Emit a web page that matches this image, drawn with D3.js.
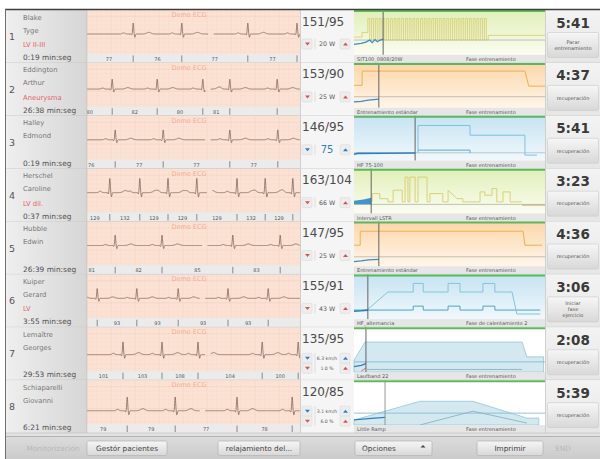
<!DOCTYPE html>
<html><head><meta charset="utf-8">
<script src="https://cdn.jsdelivr.net/npm/d3@7"></script>
<style>body{margin:0;background:#fff;} svg{display:block;font-family:"DejaVu Sans",sans-serif;}</style>
</head><body><svg id="c" width="604" height="459"></svg>
<script>
// ---------------- DATA ----------------
const patientNumbers = [1,2,3,4,5,6,7,8];
const lastNames  = ["Blake","Eddington","Halley","Herschel","Hubble","Kuiper","Lemaître","Schiaparelli"];
const firstNames = ["Tyge","Arthur","Edmond","Caroline","Edwin","Gerard","Georges","Giovanni"];
const diagnoses  = ["LV II-III","Aneurysma","","LV dil.","","LV","",""];
const elapsed    = ["0:19 min:seg","26:38 min:seg","0:19 min:seg","0:37 min:seg","26:39 min:seg","3:55 min:seg","29:53 min:seg","6:21 min:seg"];
const bloodPressure = ["151/95","153/90","146/95","163/104","147/95","155/91","135/95","120/85"];
const loadSetting   = ["20 W","25 W","75","66 W","25 W","43 W","6.3 km/h","3.1 km/h"];
const gradeSetting  = ["","","","","","","1.0 %","6.0 %"];
const phaseTimes    = ["5:41","4:37","5:41","3:23","4:36","3:06","2:08","5:39"];
const actionLabels  = [["Parar","entrenamiento"],["recuperación"],["recuperación"],["recuperación"],["recuperación"],["Iniciar","fase","ejercicio"],["recuperación"],["recuperación"]];
const programNames  = ["SIT100_0808/20W","Entrenamiento estándar","HF 75-100","Intervall LSTR","Entrenamiento estándar","HF_alternancia","Laufband 22","Little Ramp"];
const phaseNames    = ["Fase entrenamiento","Fase entrenamiento","Fase entrenamiento","Fase entrenamiento","Fase entrenamiento","Fase de calentamiento 2","Fase entrenamiento","Fase entrenamiento"];

// ECG: R-peak times (s), sweep gap start (s), RR heart-rate labels, amplitude (mV), baseline offset (mV)
const ecgBeats = [
  [0.77,1.58,2.68,3.50],
  [0.42,1.17,1.93,2.38,3.17],
  [0.47,1.27,2.38,3.18],
  [0.38,0.88,1.35,1.83,2.50,2.97,3.43],
  [0.47,1.25,2.43,3.22],
  [0.17,0.83,1.52,2.35,3.02],
  [0.60,1.25,1.85,2.92,3.52],
  [0.67,1.47,2.50,3.42]
];
const ecgGapStart = [2.02,1.97,1.97,2.00,1.92,1.88,1.97,1.88];
const rrValues = [
  [77,76,77,77],
  [80,82,80,81],
  [76,77,77,77],
  [129,132,129,129,129,132,129],
  [81,82,85,83],
  [94,93,93,93,93],
  [101,103,108,104,100],
  [79,79,77,78]
];
const ecgAmplitude = [1.0,0.9,0.9,1.3,0.95,0.9,1.15,1.25];
const ecgOffset    = [0.0,-0.2,0.0,0.0,0.0,0.0,-0.3,-0.6];

// Trend charts: [minute, % of scale]
const trendStyle = ["green","orange","blue","green","orange","blue","white","white"];
const referenceLevel = [35,26,18.5,21.5,22.6,21.7,24.2,28];
const currentTime = [6.1,5.2,12.8,3.6,5.2,2.9,2.5,6.5];
// row 1: interval protocol
const load1Warmup   = [[0,42],[1.7,42],[1.7,53],[2.9,53]];
const load1Interval = [2.9,28.1,32,86,35];   // start, end, repetitions, high, low
const load1Cooldown = [[28.1,46],[40,46]];
const hr1 = [[0,25],[1.5,27],[2.5,30],[3.3,35],[3.8,29],[4.4,36],[4.9,31],[5.5,35],[6.1,37]];
// row 2
const load2 = [[0,53],[1.7,53],[1.7,86.5],[35.8,86.5],[36.6,51],[40,51]];
const hr2 = [[0,14],[1.5,15],[3,18],[5.2,20.5]];
// row 3
const target3Upper = [[13.4,18.5],[13.4,83],[24.3,83],[24.3,60],[35.8,60],[35.8,13],[38.3,13]];
const target3Lower = [[13.4,24.8],[24.3,24.8],[24.3,18.5]];
const hr3 = [[0,15],[0.8,17],[6,17.5],[12.8,18]];
// row 4
const load4 = [[3.8,27.5],[3.8,47],[5.4,47],[5.4,35],[7.1,35],[7.1,27.5],[8.2,27.5],[8.2,55],[10.1,55],[10.1,27.5],[10.7,27.5],[10.7,86],[11.3,86],[11.3,27.5],[11.7,27.5],[11.7,86],[12.8,86],[12.8,27.5],[13.4,27.5],[13.4,86],[15.3,86],[15.3,27.5],[15.9,27.5],[15.9,47],[18.6,47],[18.6,27.5],[19.7,27.5],[19.7,55],[21.6,35],[22.8,35],[22.8,27.5],[26.4,27.5],[26.4,51],[27.4,51],[27.4,43],[28.9,43],[28.9,59],[29.9,59],[29.9,27.5],[31.2,27.5],[31.2,51],[32.7,51],[32.7,27.5],[35.2,27.5]];
const cool4 = [[35.2,19.8],[40,19.8]];
const hr4 = [[0,30],[2,33],[3.6,37]];
// row 5
const load5 = [[0,50],[1.3,50],[1.3,83],[35.4,83],[35.8,50],[39.4,50]];
const hr5 = [[0,11],[1.5,13],[3,15.5],[5.2,16.6]];
// row 6
const target6Upper = [[2.7,21.7],[7.1,64.3],[12.4,64.3],[12.4,84.6],[14.5,84.6],[14.5,64.3],[19.7,64.3],[19.7,84.6],[22.2,84.6],[22.2,64.3],[27,64.3],[27,84.6],[29.5,84.6],[29.5,64.3],[33.1,64.3],[34.1,12.4],[39,12.4]];
const target6Lower = [[0,21.7],[12.4,21.7],[12.4,31],[14.5,31],[14.5,21.7],[19.7,21.7],[19.7,31],[22.2,31],[22.2,21.7],[27,21.7],[27,31],[29.5,31],[29.5,21.7],[39,21.7]];
const hr6 = [[0,19],[1.5,20],[2.9,21.5]];
// row 7 (treadmill)
const speed7 = [[0,28],[2.3,71],[35.2,71],[36.2,36],[39.7,36]];
const grade7 = [[2.7,6.3],[35.2,6.3]];
const hr7 = [[0,13],[1.5,16],[2.5,20]];
const actual7 = [[1.5,2],[2.5,10]];
// row 8
const speed8 = [[0,11.7],[13.8,56],[24.9,56],[36.2,16.3],[38.7,16.3]];
const grade8 = [[13.8,0],[24.9,32.6],[36.2,4.7]];
const hr8 = [[0,12],[3,15],[6.5,18]];

const bottomButtons = ["Monitorización","Gestór pacientes","relajamiento del...","Opciones","Imprimir","END"];

// ---------------- DRAW ----------------
const svg = d3.select("#c");
const defs = svg.append("defs");
function grad(id, c1, c2, horiz){
  const g = defs.append("linearGradient").attr("id",id)
    .attr("x1",0).attr("y1",0).attr("x2",horiz?1:0).attr("y2",horiz?0:1);
  g.append("stop").attr("offset","0%").attr("stop-color",c1);
  g.append("stop").attr("offset","100%").attr("stop-color",c2);
}
grad("g-green","#e0efb8","#fbfdf1");
grad("g-orange","#fcd6a8","#fff6ea");
grad("g-blue","#c6e3f2","#f1f8fc");
grad("g-white","#ffffff","#ffffff");
grad("g-btn","#f6f6f6","#d8d8d8");
grad("g-bar","#dcdcdc","#cbcbcb");
grad("g-left","#efefef","#d6d6d6",true);
grad("g-right","#f3f3f3","#e6e6e6");

const rowY = d3.scaleBand().domain(d3.range(8)).range([10,433]);
const RH = rowY.bandwidth();
const ecgX = d3.scaleLinear().domain([0,3.55]).range([87,300]);
const tx = d3.scaleLinear().domain([0,40]).range([354,545]);

// frame
svg.append("rect").attr("x",5).attr("y",9).attr("width",595).attr("height",450).attr("fill","#e2e2e2");

function bump(d, c, w){ const z = (d - c) / w; return Math.exp(-(z * z)); }
function ecgValue(t, beats, amp){
  let v = 0;
  for (const b of beats){
    const d = t - b;
    if (d < -0.35 || d > 0.5) continue;
    v += 0.10*bump(d,-0.16,0.03)
       - 0.10*bump(d,-0.025,0.008)
       + 1.00*bump(d,0,0.011)
       - 0.30*bump(d,0.028,0.010)
       + 0.15*bump(d,0.26,0.05);
  }
  return v*amp;
}

patientNumbers.forEach((num, i) => {
  const top = rowY(i);
  const g = svg.append("g");

  // ---- left panel
  g.append("rect").attr("x",5).attr("y",top).attr("width",82).attr("height",RH).attr("fill","url(#g-left)");
  g.append("text").attr("x",9).attr("y",top+30).attr("font-size",9.5).attr("fill","#555").text(num);
  g.append("text").attr("x",23).attr("y",top+9.5).attr("font-size",6.8).attr("fill","#777").text(lastNames[i]);
  g.append("text").attr("x",23).attr("y",top+22.5).attr("font-size",6.8).attr("fill","#777").text(firstNames[i]);
  if (diagnoses[i]) g.append("text").attr("x",23).attr("y",top+37).attr("font-size",6.8).attr("fill","#e46464").text(diagnoses[i]);
  g.append("text").attr("x",23).attr("y",top+50).attr("font-size",7.4).attr("fill","#505050").text(elapsed[i]);

  // ---- ECG
  const ecgH = RH - 9;
  const clipId = "clip"+i;
  defs.append("clipPath").attr("id",clipId).append("rect").attr("x",87).attr("y",top).attr("width",213).attr("height",RH);
  const eg = g.append("g").attr("clip-path",`url(#${clipId})`);
  eg.append("rect").attr("x",87).attr("y",top).attr("width",213).attr("height",ecgH).attr("fill","#fbe2d4");
  const ecgY = d3.scaleLinear().domain([-1,1]).range([top+35,top+13]);
  d3.range(0,3.56,0.08).forEach((t,k)=>{
    eg.append("line").attr("x1",ecgX(t)).attr("x2",ecgX(t)).attr("y1",top).attr("y2",top+ecgH)
      .attr("stroke", k%5===0 ? "#f5ccb8" : "#f9dccd").attr("stroke-width",0.5);
  });
  d3.range(-2.4,2.4,0.4).forEach((v,k)=>{
    const yy = ecgY(v);
    if (yy < top || yy > top+ecgH) return;
    eg.append("line").attr("x1",87).attr("x2",300).attr("y1",yy).attr("y2",yy)
      .attr("stroke", k%5===0 ? "#f5ccb8" : "#f9dccd").attr("stroke-width",0.5);
  });
  eg.append("text").attr("x",ecgX(1.7)).attr("y",top+7).attr("text-anchor","middle")
    .attr("font-size",6.5).attr("fill","#f4ad96").text("Demo ECG");
  const samples = d3.range(0,3.55,0.003).map(t => [t, ecgValue(t, ecgBeats[i], ecgAmplitude[i]) + ecgOffset[i]]);
  const gs = ecgGapStart[i];
  eg.append("path").datum(samples)
    .attr("d", d3.line().defined(d => d[0] < gs || d[0] > gs+0.09).x(d=>ecgX(d[0])).y(d=>ecgY(d[1])))
    .attr("fill","none").attr("stroke","#85675c").attr("stroke-width",0.8);
  // RR strip
  const sy = top + ecgH;
  eg.append("rect").attr("x",87).attr("y",sy).attr("width",213).attr("height",9).attr("fill","#ebebeb");
  const beats = ecgBeats[i];
  beats.forEach((b,j)=>{
    eg.append("line").attr("x1",ecgX(b)).attr("x2",ecgX(b)).attr("y1",sy+1.5).attr("y2",sy+8)
      .attr("stroke","#707070").attr("stroke-width",0.8);
    const prev = j>0 ? beats[j-1] : b - (beats[1]-beats[0]);
    eg.append("text").attr("x",ecgX((prev+b)/2)).attr("y",sy+7).attr("text-anchor","middle")
      .attr("font-size",5).attr("fill","#555").text(rrValues[i][j]);
  });

  // ---- BP panel
  g.append("rect").attr("x",300).attr("y",top).attr("width",54).attr("height",RH).attr("fill","#f5f5f5");
  g.append("line").attr("x1",300.5).attr("x2",300.5).attr("y1",top).attr("y2",top+RH).attr("stroke","#cfcfcf");
  g.append("text").attr("x",302).attr("y",top+15.5).attr("font-size",12).attr("fill","#4a4a4a").text(bloodPressure[i]);
  function control(cy, label, arrowColor, big){
    const btn = (x) => g.append("rect").attr("x",x).attr("y",cy-5).attr("width",10).attr("height",10)
      .attr("rx",1).attr("fill","#ededed").attr("stroke","#d6d6d6").attr("stroke-width",0.5);
    btn(302); btn(340);
    g.append("path").attr("d",`M305,${cy-1.5} L310,${cy-1.5} L307.5,${cy+1.5} Z`).attr("fill",arrowColor);
    g.append("path").attr("d",`M343,${cy+1.5} L348,${cy+1.5} L345.5,${cy-1.5} Z`).attr("fill",arrowColor);
    g.append("line").attr("x1",315).attr("x2",315).attr("y1",cy-5).attr("y2",cy+5).attr("stroke","#cfcfcf").attr("stroke-width",0.6);
    g.append("text").attr("x",327).attr("y",cy+(big?3.5:2.2)).attr("text-anchor","middle")
      .attr("font-size",big?10:(gradeSetting[i]?4.6:6.3)).attr("fill",big?"#2f7fc0":"#555").text(label);
  }
  if (gradeSetting[i]){
    control(top+31, loadSetting[i], "#2f7fc0", false);
    control(top+41, gradeSetting[i], "#d9534f", false);
  } else if (i===2){
    control(top+34, loadSetting[i], "#2f7fc0", true);
  } else {
    control(top+34, loadSetting[i], "#d9534f", false);
  }

  // ---- trend chart
  const base = top + RH - 8;
  const ty = d3.scaleLinear().domain([0,100]).range([base, top+2.5]);
  const line = d3.line().x(d=>tx(d[0])).y(d=>ty(d[1]));
  g.append("rect").attr("x",354).attr("y",top).attr("width",191).attr("height",RH-8).attr("fill","#ffffff");
  g.append("rect").attr("x",354).attr("y",top).attr("width",191).attr("height",RH-8).attr("fill",`url(#g-${trendStyle[i]})`);
  const path = (data, color, w, op) => g.append("path").datum(data).attr("d",line).attr("fill","none")
      .attr("stroke",color).attr("stroke-width",w).attr("opacity",op||1);
  const refY = ty(referenceLevel[i]);

  if (i===0){
    const [s,e,n,hi,lo] = load1Interval;
    const per = (e-s)/n;
    const pts = load1Warmup.slice();
    d3.range(n).forEach(k => { const a=s+k*per; pts.push([a,hi],[a+per/2,hi],[a+per/2,lo],[a+per,lo]); });
    pts.push(...load1Cooldown);
    g.append("line").attr("x1",354).attr("x2",545).attr("y1",refY).attr("y2",refY).attr("stroke","#a9a9a9").attr("stroke-width",0.7);
    path(pts,"#d3c65c",0.7);
    path(hr1,"#3a8ccc",1.3);
  } else if (i===1 || i===4){
    g.append("line").attr("x1",354).attr("x2",545).attr("y1",refY).attr("y2",refY).attr("stroke","#a9a9a9").attr("stroke-width",0.7);
    path(i===1?load2:load5,"#eeb04e",1);
    path(i===1?hr2:hr5,"#3a8ccc",1.3);
  } else if (i===2){
    g.append("line").attr("x1",354).attr("x2",545).attr("y1",refY).attr("y2",refY).attr("stroke","#9cb8c6").attr("stroke-width",0.7);
    path(target3Upper,"#79c3de",1);
    path(target3Lower,"#58a9cd",1);
    path(hr3,"#2f7fbf",1.6);
  } else if (i===3){
    g.append("path").datum(hr4).attr("fill","#3f93cf")
      .attr("d", d3.area().x(d=>tx(d[0])).y0(refY).y1(d=>ty(d[1])));
    g.append("line").attr("x1",354).attr("x2",545).attr("y1",refY).attr("y2",refY).attr("stroke","#a9a9a9").attr("stroke-width",0.7);
    path(load4,"#d8cd6a",0.9);
    path(cool4,"#c8a878",1);
  } else if (i===5){
    path(target6Lower,"#4ea3cb",1);
    path(target6Upper,"#7ec6e0",1);
    path(hr6,"#2f7fbf",1.6);
  } else {
    const sp = i===6 ? speed7 : speed8;
    g.append("path").datum(sp).attr("fill","#d3e9ef").attr("stroke","#93c6d6").attr("stroke-width",0.8)
      .attr("d", d3.area().x(d=>tx(d[0])).y0(base).y1(d=>ty(d[1])));
    path(i===6?grade7:grade8,"#8fb2bf",0.9);
    g.append("line").attr("x1",354).attr("x2",545).attr("y1",refY).attr("y2",refY).attr("stroke","#79b6d4").attr("stroke-width",0.8);
    path(i===6?hr7:hr8,"#2f7fbf",1.3);
    if (i===6) path(actual7,"#e06060",0.9);
  }
  const cx = tx(currentTime[i]);
  g.append("line").attr("x1",cx).attr("x2",cx).attr("y1",top).attr("y2",base)
    .attr("stroke", i===7 ? "#8a8a8a" : "#555").attr("stroke-width",0.9);
  g.append("line").attr("x1",354).attr("x2",545).attr("y1",top+1).attr("y2",top+1).attr("stroke","#5cb85c").attr("stroke-width",2);
  // label bar
  g.append("rect").attr("x",354).attr("y",base).attr("width",191).attr("height",8).attr("fill","#e6e6e6");
  g.append("text").attr("x",357).attr("y",base+6).attr("font-size",5).attr("fill","#555").text(programNames[i]);
  g.append("text").attr("x",466).attr("y",base+6).attr("font-size",5).attr("fill","#555").text(phaseNames[i]);

  // ---- right panel
  g.append("rect").attr("x",545).attr("y",top).attr("width",55).attr("height",RH).attr("fill","url(#g-right)");
  g.append("line").attr("x1",545.5).attr("x2",545.5).attr("y1",top).attr("y2",top+RH).attr("stroke","#cfcfcf");
  g.append("text").attr("x",573).attr("y",top+17.5).attr("text-anchor","middle").attr("font-size",13.5)
    .attr("font-weight","bold").attr("fill","#3a3a3a").text(phaseTimes[i]);
  g.append("rect").attr("x",547.5).attr("y",top+22.5).attr("width",51).attr("height",25).attr("rx",1.5)
    .attr("fill","url(#g-btn)").attr("stroke","#c9c9c9").attr("stroke-width",0.6);
  const lab = actionLabels[i];
  lab.forEach((t,k)=>{
    g.append("text").attr("x",573).attr("y",top+35+ (k-(lab.length-1)/2)*6.2 + 1.8).attr("text-anchor","middle")
      .attr("font-size",5).attr("fill","#555").text(t);
  });

  // row separator
  g.append("line").attr("x1",5).attr("x2",600).attr("y1",top+RH).attr("y2",top+RH).attr("stroke","#bdbdbd").attr("stroke-width",0.6);
});

// top & left border
svg.append("line").attr("x1",5).attr("x2",600).attr("y1",9.5).attr("y2",9.5).attr("stroke","#3e3e3e").attr("stroke-width",1.5);
svg.append("line").attr("x1",5.5).attr("x2",5.5).attr("y1",9).attr("y2",459).attr("stroke","#6e6e6e").attr("stroke-width",1);
svg.append("line").attr("x1",86.8).attr("x2",86.8).attr("y1",10).attr("y2",433).attr("stroke","#bdbdbd").attr("stroke-width",0.6);

// bottom bar
svg.append("rect").attr("x",6).attr("y",436).attr("width",594).attr("height",23).attr("fill","url(#g-bar)");
svg.append("line").attr("x1",6).attr("x2",600).attr("y1",436.5).attr("y2",436.5).attr("stroke","#a8a8a8").attr("stroke-width",0.8);
const btnX = [20,87,218,355,477,546];
const btnW = [66,80,82,77,66,34];
bottomButtons.forEach((b,k)=>{
  const disabled = (k===0 || k===5);
  if (!disabled) svg.append("rect").attr("x",btnX[k]).attr("y",441).attr("width",btnW[k]).attr("height",14.5).attr("rx",1.5)
      .attr("fill","url(#g-btn)").attr("stroke","#b3b3b3").attr("stroke-width",0.7);
  svg.append("text").attr("x", k===3 ? btnX[k]+24 : btnX[k]+btnW[k]/2).attr("y",451.3).attr("text-anchor","middle")
    .attr("font-size",7.3).attr("fill", disabled ? "#b8b8b8" : "#444").text(b);
  if (k===3) svg.append("path").attr("d","M420.5,447.5 L425.5,447.5 L423,445 Z").attr("fill","#444");
});
</script></body></html>
